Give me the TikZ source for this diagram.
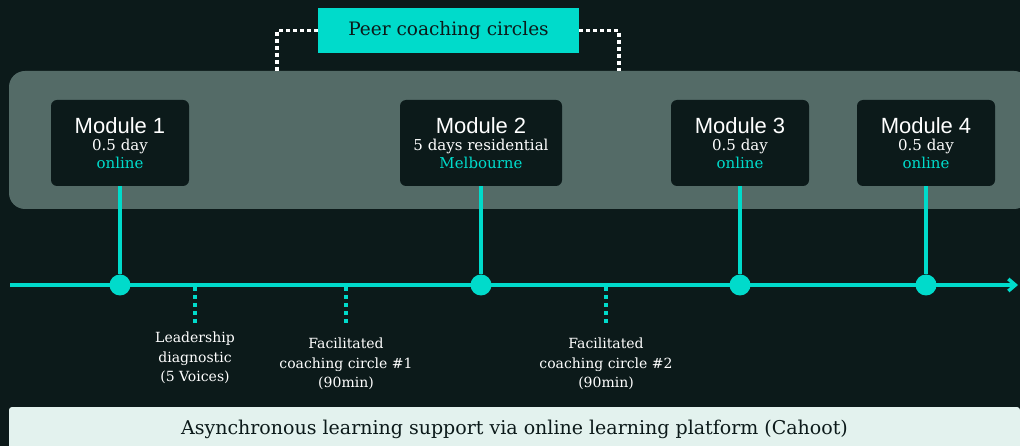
\documentclass[tikz,border=0pt]{standalone}
\usepackage{fontspec}
\setmainfont{DejaVu Serif}
\setsansfont{Liberation Sans}
\usetikzlibrary{positioning,arrows.meta}

\definecolor{bgdark}{HTML}{0C1A1A}
\definecolor{bandc}{HTML}{546B67}
\definecolor{tealc}{HTML}{00DBCB}
\definecolor{mint}{HTML}{E3F2EE}

\tikzset{
  module/.style={fill=bgdark, rounded corners=6pt, minimum width=138pt, minimum height=86pt,
    align=center, text=white, inner sep=0pt, font=\fontsize{15}{17.5}\selectfont},
  peer/.style={fill=tealc, minimum width=261pt, minimum height=45pt, text=bgdark,
    font=\fontsize{18.5}{21}\selectfont},
  bar/.style={fill=mint, rounded corners=3pt, minimum width=1011pt, minimum height=45pt,
    text=bgdark, font=\fontsize{19}{21}\selectfont},
  note/.style={align=center, text=white, font=\fontsize{14}{19.5}\selectfont},
  dot/.style={circle, fill=tealc, inner sep=0pt, minimum size=21pt},
  axis/.style={draw=tealc, line width=3.5pt},
  stem/.style={draw=tealc, line width=3.5pt},
  tick/.style={draw=tealc, line width=3.5pt, dash pattern=on 4pt off 4pt},
  bracket/.style={draw=white, line width=3.5pt, dash pattern=on 4pt off 3pt},
}
\newcommand{\modtitle}[1]{{\sffamily\fontsize{22}{24}\selectfont #1}}

\begin{document}
\begin{tikzpicture}[x=1pt, y=-1pt]
  \useasboundingbox (0,0) rectangle (1020,446);
  \fill[bgdark] (0,0) rectangle (1020,446);

  % band and modules
  \fill[bandc, rounded corners=16pt] (9,71) rectangle (1030,209);
  \node[module] (m1) at (120,143) {\modtitle{Module 1}\\0.5 day\\\textcolor{tealc}{online}};
  \node[module, minimum width=162pt] (m2) at (481,143) {\modtitle{Module 2}\\5 days residential\\\textcolor{tealc}{Melbourne}};
  \node[module] (m3) at (740,143) {\modtitle{Module 3}\\0.5 day\\\textcolor{tealc}{online}};
  \node[module] (m4) at (926,143) {\modtitle{Module 4}\\0.5 day\\\textcolor{tealc}{online}};

  % peer coaching
  \node[peer] (peer) at (448.5,30.5) {Peer coaching circles};
  \coordinate (bl) at (277,71);
  \coordinate (br) at (619,71);
  \draw[bracket] (peer.west) -| (bl);
  \draw[bracket] (peer.east) -| (br);

  % timeline
  \coordinate (tl0) at (10,285);
  \coordinate (tl1) at (1018,285);
  \draw[axis, -{Straight Barb[length=7pt, width=12pt]}] (tl0) -- (tl1);
  \foreach \i/\x in {1/120, 2/481, 3/740, 4/926} {
    \node[dot] (d\i) at (\x,285) {};
    \draw[stem] (m\i.south) -- (d\i.north);
  }

  % sessions in between
  \node[note] (n1) at (195,358) {Leadership\\diagnostic\\(5 Voices)};
  \node[note] (n2) at (346,364) {Facilitated\\coaching circle \#1\\(90min)};
  \node[note] (n3) at (606,364) {Facilitated\\coaching circle \#2\\(90min)};
  \foreach \i/\x in {1/195, 2/346, 3/606} {
    \coordinate (t\i a) at (\x,287);
    \coordinate (t\i b) at (\x,323);
    \draw[tick] (t\i a) -- (t\i b);
  }

  % platform bar
  \node[bar] (async) at (514.5,429.5) {Asynchronous learning support via online learning platform (Cahoot)};
\end{tikzpicture}
\end{document}
